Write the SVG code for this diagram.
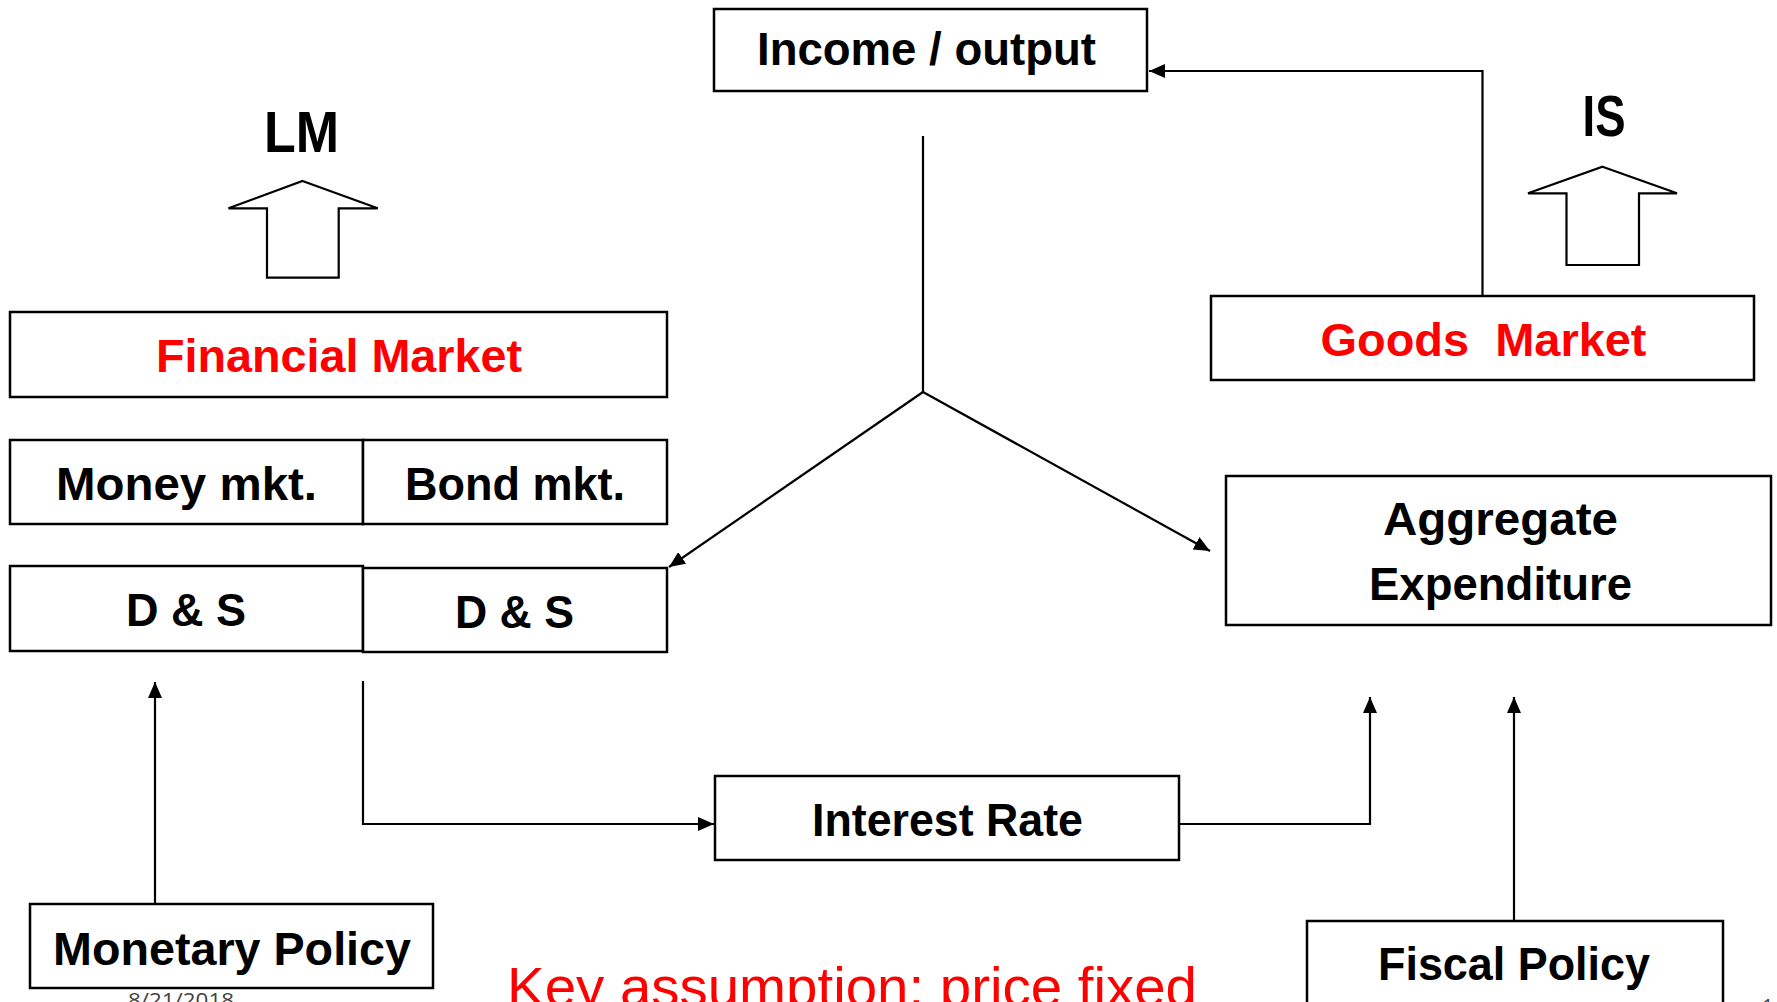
<svg xmlns="http://www.w3.org/2000/svg" width="1777" height="1002" viewBox="0 0 1777 1002">
<style>
.box{fill:#fff;stroke:#000;stroke-width:2.5}
.blk{fill:#fff;stroke:#000;stroke-width:2.2;stroke-linejoin:miter}
.lbl{font-family:"Liberation Sans",Arial,sans-serif;font-weight:bold;font-size:46px;fill:#000}
.red{fill:#ff0000}
.big{font-size:58px}
.con{fill:none;stroke:#000;stroke-width:2.2}
.note{font-family:"Liberation Sans",Arial,sans-serif;font-size:56px;fill:#ff0000}
.foot{font-family:"Open Sans","Liberation Sans",sans-serif;font-size:20px;fill:#404040}
</style>
<defs>
<marker id="ah" markerUnits="userSpaceOnUse" markerWidth="18" markerHeight="14" refX="16" refY="7" orient="auto">
<path d="M0,0 L16,7 L0,14 Z" fill="#000"/>
</marker>
</defs>
<rect width="1777" height="1002" fill="#fff"/>

<g id="connectors">
<path class="con" d="M1482.5,296 V71 H1149" marker-end="url(#ah)"/>
<path class="con" d="M923,136 V392"/>
<path class="con" d="M923,392 L669,567" marker-end="url(#ah)"/>
<path class="con" d="M923,392 L1210,551" marker-end="url(#ah)"/>
<path class="con" d="M155,904 V682" marker-end="url(#ah)"/>
<path class="con" d="M363,681 V824 H714" marker-end="url(#ah)"/>
<path class="con" d="M1179,824 H1370 V697" marker-end="url(#ah)"/>
<path class="con" d="M1514,921 V697" marker-end="url(#ah)"/>
</g>

<g id="lm-label">
<text class="lbl big" x="264" y="152" textLength="75" lengthAdjust="spacingAndGlyphs">LM</text>
</g>
<g id="lm-arrow">
<polygon class="blk" points="302.5,181 377.7,208.3 338.7,208.3 338.7,277.7 267,277.7 267,208.3 228.5,208.3"/>
</g>
<g id="is-label">
<text class="lbl big" x="1582.5" y="136" textLength="43" lengthAdjust="spacingAndGlyphs">IS</text>
</g>
<g id="is-arrow">
<polygon class="blk" points="1602.5,166.7 1677,193.3 1639,193.3 1639,265 1566.5,265 1566.5,193.3 1528,193.3"/>
</g>

<g id="income-output">
<rect class="box" x="714" y="9" width="433" height="82"/>
<text class="lbl" x="757" y="65" textLength="339" lengthAdjust="spacingAndGlyphs">Income / output</text>
</g>

<g id="financial-market">
<rect class="box" x="10" y="312" width="657" height="85"/>
<text class="lbl red" x="156" y="372" textLength="366" lengthAdjust="spacingAndGlyphs">Financial Market</text>
</g>

<g id="money-mkt">
<rect class="box" x="10" y="440" width="353" height="84"/>
<text class="lbl" x="56" y="500" textLength="261" lengthAdjust="spacingAndGlyphs">Money mkt.</text>
</g>
<g id="bond-mkt">
<rect class="box" x="363" y="440" width="304" height="84"/>
<text class="lbl" x="405" y="500" textLength="220" lengthAdjust="spacingAndGlyphs">Bond mkt.</text>
</g>

<g id="ds-money">
<rect class="box" x="10" y="566" width="353" height="85"/>
<text class="lbl" x="126" y="626" textLength="120" lengthAdjust="spacingAndGlyphs">D &amp; S</text>
</g>
<g id="ds-bond">
<rect class="box" x="363" y="568" width="304" height="84"/>
<text class="lbl" x="455" y="628" textLength="119" lengthAdjust="spacingAndGlyphs">D &amp; S</text>
</g>

<g id="goods-market">
<rect class="box" x="1211" y="296" width="543" height="84"/>
<text class="lbl red" x="1320.5" y="356" textLength="326" lengthAdjust="spacingAndGlyphs" style="white-space:pre">Goods  Market</text>
</g>

<g id="aggregate-expenditure">
<rect class="box" x="1226" y="476" width="545" height="149"/>
<text class="lbl" x="1383" y="535" textLength="235" lengthAdjust="spacingAndGlyphs">Aggregate</text>
<text class="lbl" x="1369" y="600" textLength="263" lengthAdjust="spacingAndGlyphs">Expenditure</text>
</g>

<g id="interest-rate">
<rect class="box" x="715" y="776" width="464" height="84"/>
<text class="lbl" x="812" y="836" textLength="271" lengthAdjust="spacingAndGlyphs">Interest Rate</text>
</g>

<g id="monetary-policy">
<rect class="box" x="30" y="904" width="403" height="84"/>
<text class="lbl" x="53" y="965" textLength="358" lengthAdjust="spacingAndGlyphs">Monetary Policy</text>
</g>

<g id="fiscal-policy">
<rect class="box" x="1307" y="921" width="416" height="100"/>
<text class="lbl" x="1378" y="980" textLength="272" lengthAdjust="spacingAndGlyphs">Fiscal Policy</text>
</g>

<g id="note">
<text class="note" x="507" y="1006" textLength="690" lengthAdjust="spacingAndGlyphs">Key assumption: price fixed</text>
</g>
<g id="footer">
<text class="foot" x="128" y="1007" textLength="106" lengthAdjust="spacingAndGlyphs">8/21/2018</text>
<text class="foot" x="1762" y="1013">1</text>
</g>
</svg>
